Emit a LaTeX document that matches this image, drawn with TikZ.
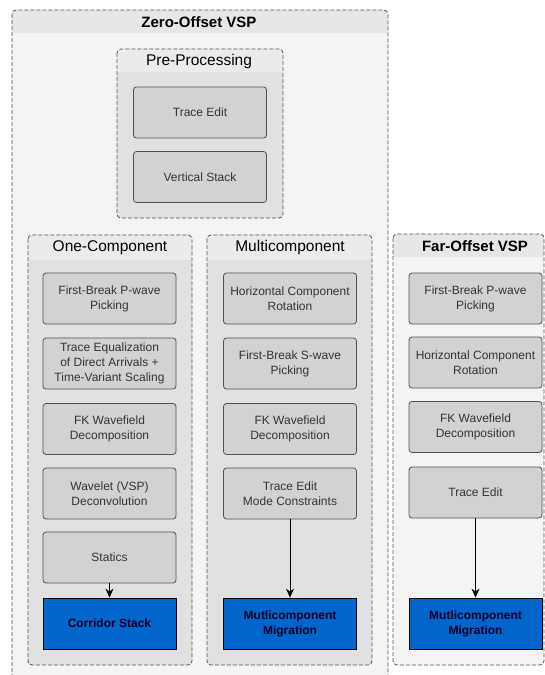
\documentclass[tikz,border=0pt]{standalone}
\usepackage{fontspec}
\setmainfont{Liberation Sans}
\usetikzlibrary{arrows.meta}

\definecolor{panelbody}{HTML}{F4F4F4}
\definecolor{panelband}{HTML}{E7E7E7}
\definecolor{groupbody}{HTML}{E1E1E1}
\definecolor{groupband}{HTML}{EBEBEB}
\definecolor{procfill}{HTML}{D2D2D2}
\definecolor{lineGray}{HTML}{505050}
\definecolor{textGray}{HTML}{333333}
\definecolor{resultBlue}{HTML}{0066CC}

% group frame: x1, y1, x2, y2, bottom of title band, body colour, band colour
\newcommand{\vspgroup}[7]{%
	\begin{scope}
		\clip[rounded corners=4pt] (#1,#2) rectangle (#3,#4);
		\fill[#6] (#1,#2) rectangle (#3,#4);
		\fill[#7] (#1,#2) rectangle (#3,#5);
	\end{scope}
	\draw[groupline] (#1,#2) rectangle (#3,#4);}

\begin{document}
\begin{tikzpicture}[x=1pt, y={(0pt,-1pt)},
	groupline/.style = {draw = lineGray, line width = 0.8pt, dash pattern = on 4pt off 2pt, rounded corners = 4pt},
	proc/.style = {draw = lineGray, fill = procfill, line width = 0.8pt, rounded corners = 3pt,
		minimum width = 133pt, minimum height = 51pt, align = center, text = textGray,
		font = \fontsize{12}{15}\selectfont},
	result/.style = {draw = black, fill = resultBlue, line width = 0.8pt,
		minimum width = 133pt, minimum height = 51pt, align = center, text = black!85!blue,
		font = \fontsize{12}{15}\selectfont\bfseries},
	title/.style = {font = \fontsize{15.5}{18}\selectfont},
	flow/.style = {thick, -{Stealth[length = 9pt, width = 8pt]}}]
	\useasboundingbox (0, 0) rectangle (545, 675);
	\fill[white] (0, 0) rectangle (545, 675);
	
	\begin{scope}
		\clip (0, 0) rectangle (545, 675);
		\vspgroup{12}{10}{388}{700}{33}{panelbody}{panelband}
	\end{scope}
	\node[title, font = \fontsize{15}{18}\selectfont\bfseries] (zeroTitle) at (199, 22.5) {Zero-Offset VSP};
	
	% pre-processing
	\vspgroup{117}{49}{283}{218}{72}{groupbody}{groupband}
	\node[title] (preTitle) at (199, 61) {Pre-Processing};
	\node[proc] (preEdit) at (200, 112.5) {Trace Edit};
	\node[proc] (preStack) at (200, 177) {Vertical Stack};
	
	% one-component
	\vspgroup{28}{235}{192}{665}{260}{groupbody}{groupband}
	\node[title] (oneTitle) at (110, 247.5) {One-Component};
	\node[proc] (onePick) at (109.5, 298.5) {First-Break P-wave\\Picking};
	\node[proc] (oneEqual) at (109.5, 363.5) {Trace Equalization\\of Direct Arrivals +\\Time-Variant Scaling};
	\node[proc] (oneFK) at (109.5, 429) {FK Wavefield\\Decomposition};
	\node[proc] (oneDecon) at (109.5, 493.5) {Wavelet (VSP)\\Deconvolution};
	\node[proc] (oneStatics) at (109.5, 557.5) {Statics};
	\node[result] (oneCorridor) at (109.5, 623.5) {Corridor Stack};
	\draw[flow] (oneStatics) -- (oneCorridor);
	
	% multicomponent
	\vspgroup{207}{235}{372}{665}{260}{groupbody}{groupband}
	\node[title] (multiTitle) at (290, 247.5) {Multicomponent};
	\node[proc] (multiRot) at (290, 298.5) {Horizontal Component\\Rotation};
	\node[proc] (multiPick) at (290, 363.5) {First-Break S-wave\\Picking};
	\node[proc] (multiFK) at (290, 429) {FK Wavefield\\Decomposition};
	\node[proc] (multiEdit) at (290, 493.5) {Trace Edit\\Mode Constraints};
	\node[result] (multiMig) at (290, 623.5) {Mutlicomponent\\Migration};
	\draw[flow] (multiEdit) -- (multiMig);
	
	% far-offset
	\vspgroup{393}{234}{544}{665}{257}{panelbody}{panelband}
	\node[title, font = \fontsize{15}{18}\selectfont\bfseries] (farTitle) at (475, 246.5) {Far-Offset VSP};
	\node[proc] (farPick) at (475.5, 298.5) {First-Break P-wave\\Picking};
	\node[proc] (farRot) at (475.5, 362.5) {Horizontal Component\\Rotation};
	\node[proc] (farFK) at (475.5, 427) {FK Wavefield\\Decomposition};
	\node[proc] (farEdit) at (475.5, 492.5) {Trace Edit};
	\node[result] (farMig) at (475.5, 623.5) {Mutlicomponent\\Migration};
	\draw[flow] (farEdit) -- (farMig);
\end{tikzpicture}
\end{document}
